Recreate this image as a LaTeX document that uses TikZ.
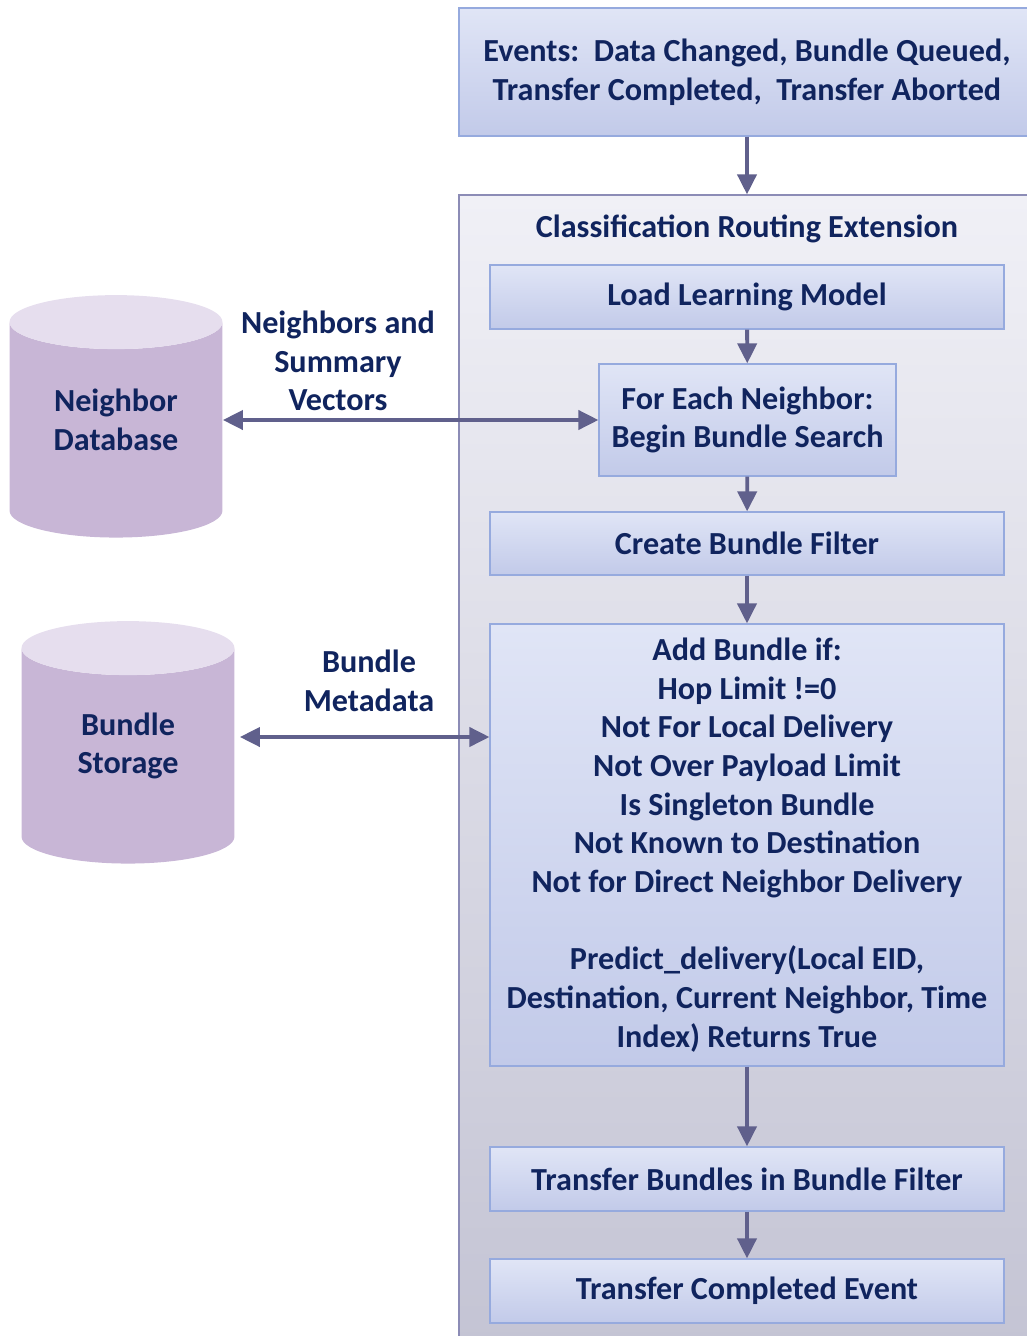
\documentclass[tikz,border=0pt]{standalone}
\usepackage{fontspec}
\setmainfont{Carlito}
\usetikzlibrary{shapes.geometric,arrows.meta}

\definecolor{txtblue}{RGB}{16,36,94}
\definecolor{boxtop}{RGB}{224,229,246}
\definecolor{boxbot}{RGB}{194,202,233}
\definecolor{boxline}{RGB}{150,170,222}
\definecolor{contop}{RGB}{240,240,246}
\definecolor{conbot}{RGB}{196,196,212}
\definecolor{conline}{RGB}{140,140,182}
\definecolor{arrowcol}{RGB}{96,96,140}
\definecolor{dbend}{RGB}{230,222,238}
\definecolor{dbbody}{RGB}{200,182,214}

\tikzset{
  bigfont/.style={text=txtblue, font=\bfseries\fontsize{18.3}{22}\selectfont, align=center},
  stepbox/.style={bigfont, draw=boxline, line width=0.7pt, top color=boxtop, bottom color=boxbot, inner sep=0pt},
  wide/.style={stepbox, minimum width=10.28cm, minimum height=1.28cm},
  container/.style={draw=conline, line width=0.8pt, top color=contop, bottom color=conbot, minimum width=11.52cm, minimum height=23cm},
  store/.style={cylinder, shape border rotate=90, aspect=0.36, minimum width=4.26cm, minimum height=4.85cm,
    text width=3cm, text height=1.2cm, cylinder uses custom fill, cylinder body fill=dbbody, cylinder end fill=dbend, inner sep=0pt,
    label={[bigfont, yshift=0.2cm]center:#1}},
  flow/.style={-{Triangle[width=0.38cm,length=0.4cm]}, arrowcol, line width=2.2pt},
  biflow/.style={{Triangle[width=0.38cm,length=0.4cm]}-{Triangle[width=0.38cm,length=0.4cm]}, arrowcol, line width=2.2pt}
}

\begin{document}
\begin{tikzpicture}[x=0.02cm, y=-0.02cm]
    \useasboundingbox (0,0) rectangle (1027,1336);
    \clip (0,0) rectangle (1027,1336);

    % events and extension frame
    \node[stepbox, minimum width=11.52cm, minimum height=2.56cm] (ev) at (747,72)
        {Events:\ \ Data Changed, Bundle Queued,\\Transfer Completed,\ \ Transfer Aborted};
    \node[container] (ext) at (747,770) {};
    \node[bigfont] (title) at (747,229) {Classification Routing Extension};

    % steps
    \node[wide] (lem) at (747,297) {Load Learning Model};
    \node[stepbox, minimum width=5.94cm, minimum height=2.24cm] (fen) at (747.5,420)
        {For Each Neighbor:\\Begin Bundle Search};
    \node[wide, minimum height=1.26cm] (cbf) at (747,543.5) {Create Bundle Filter};
    \node[wide, minimum height=8.84cm] (add) at (747,845)
        {Add Bundle if:\\Hop Limit !=0\\Not For Local Delivery\\Not Over Payload Limit\\Is Singleton Bundle\\
         Not Known to Destination\\Not for Direct Neighbor Delivery\\[22pt]
         Predict\_delivery(Local EID,\\Destination, Current Neighbor, Time\\Index) Returns True};
    \node[wide] (tbf) at (747,1179) {Transfer Bundles in Bundle Filter};
    \node[wide] (tce) at (747,1291) {Transfer Completed Event};

    % stores
    \node[store={Neighbor\\Database}] (ndb) at (116,430) {};
    \node[store={Bundle\\Storage}] (bst) at (128,756) {};
    \node[bigfont] (nsv) at (338,361) {Neighbors and\\Summary\\Vectors};
    \node[bigfont] (bmd) at (369,681) {Bundle\\Metadata};

    \draw[flow] (ev) -- (ext.north);
    \draw[flow] (lem) -- (fen);
    \draw[flow] (fen) -- (cbf);
    \draw[flow] (cbf) -- (add);
    \draw[flow] (add) -- (tbf);
    \draw[flow] (tbf) -- (tce);

    \draw[biflow] (ndb.east |- fen.west) -- (fen.west);
    \coordinate (bm) at ([xshift=0.1cm, yshift=0.38cm]bst.east);
    \draw[biflow] (bm) -- (bm -| add.west);
\end{tikzpicture}
\end{document}
